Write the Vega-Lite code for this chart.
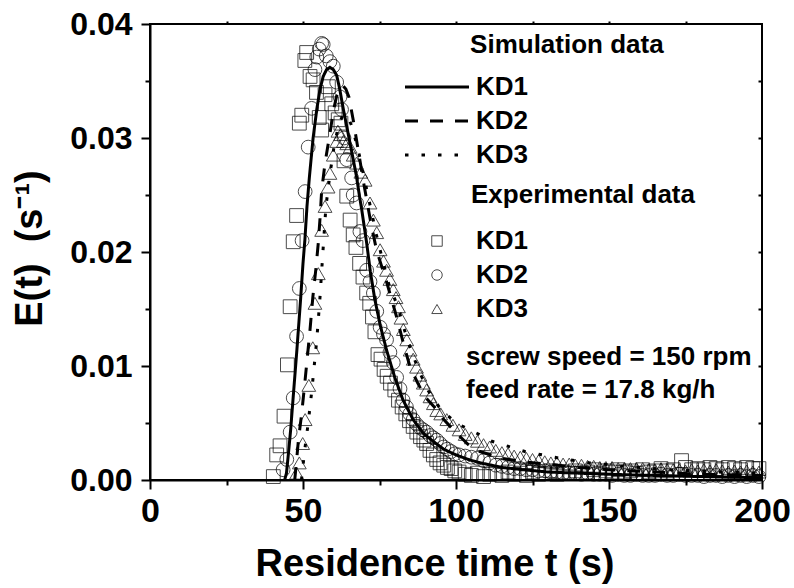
{
"$schema": "https://vega.github.io/schema/vega-lite/v6.json",
"autosize": {"type": "none"},
"padding": {"left": 150, "top": 24, "right": 32, "bottom": 108},
"width": 612,
"height": 456,
"background": "white",
"config": {
  "font": "Liberation Sans",
  "view": {"stroke": "black", "strokeWidth": 2},
  "axis": {"domainColor": "black", "domainWidth": 2, "tickColor": "black", "tickWidth": 2, "labelColor": "black", "titleColor": "black", "labelFont": "Liberation Sans", "labelFontWeight": "bold", "titleFont": "Liberation Sans", "titleFontWeight": "bold", "grid": false, "labelFlush": false, "labelOverlap": false},
  "legend": {"labelFont": "Liberation Sans", "labelFontWeight": "bold", "labelColor": "black", "labelFontSize": 26, "padding": 0}
},
"datasets": {
"exp": [
{"exp":"KD1","t":40.3,"e":0.0003},{"exp":"KD1","t":41.4,"e":0.0022},{"exp":"KD1","t":42.5,"e":0.0030},{"exp":"KD1","t":43.8,"e":0.0056},{"exp":"KD1","t":44.9,"e":0.0101},{"exp":"KD1","t":45.8,"e":0.0152},{"exp":"KD1","t":46.8,"e":0.0209},{"exp":"KD1","t":47.9,"e":0.0232},{"exp":"KD1","t":48.8,"e":0.0313},{"exp":"KD1","t":49.6,"e":0.0320},{"exp":"KD1","t":50.6,"e":0.0368},{"exp":"KD1","t":51.2,"e":0.0375},{"exp":"KD1","t":52.3,"e":0.0354},{"exp":"KD1","t":53.3,"e":0.0351},{"exp":"KD1","t":54.4,"e":0.0340},{"exp":"KD1","t":55.3,"e":0.0318},{"exp":"KD1","t":56.1,"e":0.0307},{"exp":"KD1","t":57.2,"e":0.0338},{"exp":"KD1","t":58.3,"e":0.0345},{"exp":"KD1","t":59.4,"e":0.0330},{"exp":"KD1","t":60.5,"e":0.0322},{"exp":"KD1","t":61.5,"e":0.0316},{"exp":"KD1","t":62.4,"e":0.0313},{"exp":"KD1","t":63.4,"e":0.0280},{"exp":"KD1","t":64.3,"e":0.0249},{"exp":"KD1","t":65.4,"e":0.0228},{"exp":"KD1","t":66.4,"e":0.0215},{"exp":"KD1","t":67.3,"e":0.0204},{"exp":"KD1","t":68.5,"e":0.0190},{"exp":"KD1","t":69.6,"e":0.0178},{"exp":"KD1","t":70.8,"e":0.0164},{"exp":"KD1","t":71.8,"e":0.0155},{"exp":"KD1","t":72.7,"e":0.0143},{"exp":"KD1","t":73.5,"e":0.0130},{"exp":"KD1","t":74.5,"e":0.0110},{"exp":"KD1","t":75.5,"e":0.0106},{"exp":"KD1","t":76.5,"e":0.0097},{"exp":"KD1","t":77.5,"e":0.0091},{"exp":"KD1","t":78.6,"e":0.0085},{"exp":"KD1","t":80.0,"e":0.0079},{"exp":"KD1","t":81.2,"e":0.0070},{"exp":"KD1","t":82.4,"e":0.0064},{"exp":"KD1","t":83.6,"e":0.0058},{"exp":"KD1","t":84.8,"e":0.0052},{"exp":"KD1","t":86.0,"e":0.0047},{"exp":"KD1","t":87.2,"e":0.0042},{"exp":"KD1","t":88.4,"e":0.0038},{"exp":"KD1","t":89.5,"e":0.0035},{"exp":"KD1","t":90.4,"e":0.0032},{"exp":"KD1","t":91.5,"e":0.0026},{"exp":"KD1","t":92.6,"e":0.0022},{"exp":"KD1","t":93.7,"e":0.0018},{"exp":"KD1","t":94.8,"e":0.0015},{"exp":"KD1","t":96.0,"e":0.0013},{"exp":"KD1","t":97.2,"e":0.0011},{"exp":"KD1","t":98.4,"e":0.0010},{"exp":"KD1","t":99.6,"e":0.0008},
{"exp":"KD1","t":101,"e":0.0007},{"exp":"KD1","t":103,"e":0.0005},{"exp":"KD1","t":105,"e":0.0004},{"exp":"KD1","t":107,"e":0.0006},{"exp":"KD1","t":109,"e":0.0003},{"exp":"KD1","t":111,"e":0.0005},{"exp":"KD1","t":113,"e":0.0006},{"exp":"KD1","t":115,"e":0.0004},{"exp":"KD1","t":117,"e":0.0007},{"exp":"KD1","t":119,"e":0.0005},{"exp":"KD1","t":121,"e":0.0006},{"exp":"KD1","t":123,"e":0.0004},{"exp":"KD1","t":125,"e":0.0007},{"exp":"KD1","t":127,"e":0.0005},{"exp":"KD1","t":129,"e":0.0006},{"exp":"KD1","t":131,"e":0.0008},{"exp":"KD1","t":133,"e":0.0005},{"exp":"KD1","t":135,"e":0.0007},{"exp":"KD1","t":137,"e":0.0006},{"exp":"KD1","t":139,"e":0.0008},{"exp":"KD1","t":141,"e":0.0006},{"exp":"KD1","t":143,"e":0.0007},{"exp":"KD1","t":145,"e":0.0009},{"exp":"KD1","t":147,"e":0.0006},{"exp":"KD1","t":149,"e":0.0008},{"exp":"KD1","t":151,"e":0.0007},{"exp":"KD1","t":153,"e":0.0009},{"exp":"KD1","t":155,"e":0.0007},{"exp":"KD1","t":157,"e":0.0008},{"exp":"KD1","t":159,"e":0.0006},{"exp":"KD1","t":161,"e":0.0009},{"exp":"KD1","t":163,"e":0.0007},{"exp":"KD1","t":165,"e":0.0008},{"exp":"KD1","t":167,"e":0.0010},{"exp":"KD1","t":169,"e":0.0008},{"exp":"KD1","t":171,"e":0.0009},{"exp":"KD1","t":173.7,"e":0.0017},{"exp":"KD1","t":175,"e":0.0011},{"exp":"KD1","t":177,"e":0.0009},{"exp":"KD1","t":179,"e":0.0010},{"exp":"KD1","t":181,"e":0.0009},{"exp":"KD1","t":183,"e":0.0011},{"exp":"KD1","t":185,"e":0.0010},{"exp":"KD1","t":187,"e":0.0009},{"exp":"KD1","t":189,"e":0.0011},{"exp":"KD1","t":191,"e":0.0010},{"exp":"KD1","t":193,"e":0.0009},{"exp":"KD1","t":195,"e":0.0011},{"exp":"KD1","t":197,"e":0.0010},{"exp":"KD1","t":199,"e":0.0010},
{"exp":"KD2","t":43.5,"e":0.0009},{"exp":"KD2","t":44.7,"e":0.0018},{"exp":"KD2","t":45.8,"e":0.0042},{"exp":"KD2","t":46.8,"e":0.0072},{"exp":"KD2","t":47.9,"e":0.0126},{"exp":"KD2","t":48.8,"e":0.0168},{"exp":"KD2","t":49.7,"e":0.0210},{"exp":"KD2","t":50.7,"e":0.0253},{"exp":"KD2","t":51.7,"e":0.0292},{"exp":"KD2","t":52.8,"e":0.0326},{"exp":"KD2","t":53.9,"e":0.0360},{"exp":"KD2","t":54.5,"e":0.0371},{"exp":"KD2","t":55.3,"e":0.0378},{"exp":"KD2","t":56.1,"e":0.0383},{"exp":"KD2","t":56.6,"e":0.0382},{"exp":"KD2","t":57.6,"e":0.0372},{"exp":"KD2","t":58.8,"e":0.0367},{"exp":"KD2","t":59.9,"e":0.0363},{"exp":"KD2","t":61.0,"e":0.0349},{"exp":"KD2","t":62.1,"e":0.0336},{"exp":"KD2","t":62.6,"e":0.0325},{"exp":"KD2","t":63.4,"e":0.0300},{"exp":"KD2","t":64.3,"e":0.0281},{"exp":"KD2","t":65.9,"e":0.0265},{"exp":"KD2","t":66.4,"e":0.0250},{"exp":"KD2","t":67.5,"e":0.0243},{"exp":"KD2","t":68.6,"e":0.0218},{"exp":"KD2","t":69.6,"e":0.0210},{"exp":"KD2","t":70.8,"e":0.0184},{"exp":"KD2","t":71.9,"e":0.0174},{"exp":"KD2","t":73.0,"e":0.0164},{"exp":"KD2","t":74.1,"e":0.0148},{"exp":"KD2","t":75.2,"e":0.0134},{"exp":"KD2","t":76.3,"e":0.0128},{"exp":"KD2","t":77.3,"e":0.0123},{"exp":"KD2","t":78.4,"e":0.0112},{"exp":"KD2","t":79.5,"e":0.0103},{"exp":"KD2","t":80.6,"e":0.0090},{"exp":"KD2","t":81.7,"e":0.0080},{"exp":"KD2","t":82.7,"e":0.0070},{"exp":"KD2","t":83.8,"e":0.0064},{"exp":"KD2","t":84.9,"e":0.0058},{"exp":"KD2","t":86.0,"e":0.0053},{"exp":"KD2","t":87.1,"e":0.0049},{"exp":"KD2","t":88.2,"e":0.0046},{"exp":"KD2","t":89.3,"e":0.0044},{"exp":"KD2","t":90.4,"e":0.0042},{"exp":"KD2","t":91.5,"e":0.0039},{"exp":"KD2","t":92.6,"e":0.0037},{"exp":"KD2","t":93.7,"e":0.0035},{"exp":"KD2","t":94.8,"e":0.0032},{"exp":"KD2","t":96.0,"e":0.0029},{"exp":"KD2","t":97.2,"e":0.0027},{"exp":"KD2","t":98.4,"e":0.0025},{"exp":"KD2","t":99.6,"e":0.0023},
{"exp":"KD2","t":101,"e":0.0022},{"exp":"KD2","t":103,"e":0.0021},{"exp":"KD2","t":105,"e":0.0020},{"exp":"KD2","t":107,"e":0.0019},{"exp":"KD2","t":109,"e":0.0017},{"exp":"KD2","t":111,"e":0.0015},{"exp":"KD2","t":113,"e":0.0013},{"exp":"KD2","t":115,"e":0.0012},{"exp":"KD2","t":117,"e":0.0011},{"exp":"KD2","t":119,"e":0.0010},{"exp":"KD2","t":121,"e":0.0010},{"exp":"KD2","t":123,"e":0.0009},{"exp":"KD2","t":125,"e":0.0009},{"exp":"KD2","t":127,"e":0.0008},{"exp":"KD2","t":129,"e":0.0008},{"exp":"KD2","t":131,"e":0.0007},{"exp":"KD2","t":133,"e":0.0007},{"exp":"KD2","t":135,"e":0.0006},{"exp":"KD2","t":137,"e":0.0006},{"exp":"KD2","t":139,"e":0.0006},{"exp":"KD2","t":141,"e":0.0005},{"exp":"KD2","t":143,"e":0.0006},{"exp":"KD2","t":145,"e":0.0005},{"exp":"KD2","t":147,"e":0.0005},{"exp":"KD2","t":149,"e":0.0005},{"exp":"KD2","t":151,"e":0.0004},{"exp":"KD2","t":153,"e":0.0005},{"exp":"KD2","t":155,"e":0.0004},{"exp":"KD2","t":157,"e":0.0004},{"exp":"KD2","t":159,"e":0.0005},{"exp":"KD2","t":161,"e":0.0004},{"exp":"KD2","t":163,"e":0.0004},{"exp":"KD2","t":165,"e":0.0004},{"exp":"KD2","t":167,"e":0.0005},{"exp":"KD2","t":169,"e":0.0004},{"exp":"KD2","t":171,"e":0.0004},{"exp":"KD2","t":173,"e":0.0005},{"exp":"KD2","t":175,"e":0.0004},{"exp":"KD2","t":177,"e":0.0004},{"exp":"KD2","t":179,"e":0.0004},{"exp":"KD2","t":181,"e":0.0003},{"exp":"KD2","t":183,"e":0.0004},{"exp":"KD2","t":185,"e":0.0004},{"exp":"KD2","t":187,"e":0.0003},{"exp":"KD2","t":189,"e":0.0004},{"exp":"KD2","t":191,"e":0.0003},{"exp":"KD2","t":193,"e":0.0004},{"exp":"KD2","t":195,"e":0.0003},{"exp":"KD2","t":197,"e":0.0004},{"exp":"KD2","t":199,"e":0.0003},
{"exp":"KD3","t":47.9,"e":0.0006},{"exp":"KD3","t":48.8,"e":0.0015},{"exp":"KD3","t":49.9,"e":0.0032},{"exp":"KD3","t":50.7,"e":0.0053},{"exp":"KD3","t":51.9,"e":0.0083},{"exp":"KD3","t":53.2,"e":0.0116},{"exp":"KD3","t":53.9,"e":0.0155},{"exp":"KD3","t":55.0,"e":0.0181},{"exp":"KD3","t":56.1,"e":0.0219},{"exp":"KD3","t":57.2,"e":0.0240},{"exp":"KD3","t":58.2,"e":0.0257},{"exp":"KD3","t":58.8,"e":0.0269},{"exp":"KD3","t":59.9,"e":0.0285},{"exp":"KD3","t":61.0,"e":0.0297},{"exp":"KD3","t":61.4,"e":0.0306},{"exp":"KD3","t":62.3,"e":0.0303},{"exp":"KD3","t":63.2,"e":0.0297},{"exp":"KD3","t":64.3,"e":0.0295},{"exp":"KD3","t":65.4,"e":0.0292},{"exp":"KD3","t":66.4,"e":0.0285},{"exp":"KD3","t":67.5,"e":0.0278},{"exp":"KD3","t":68.9,"e":0.0270},{"exp":"KD3","t":70.3,"e":0.0263},{"exp":"KD3","t":71.9,"e":0.0243},{"exp":"KD3","t":73.0,"e":0.0228},{"exp":"KD3","t":74.1,"e":0.0217},{"exp":"KD3","t":75.2,"e":0.0202},{"exp":"KD3","t":76.3,"e":0.0192},{"exp":"KD3","t":77.3,"e":0.0184},{"exp":"KD3","t":78.4,"e":0.0176},{"exp":"KD3","t":79.5,"e":0.0167},{"exp":"KD3","t":80.4,"e":0.0160},{"exp":"KD3","t":81.2,"e":0.0152},{"exp":"KD3","t":82.0,"e":0.0142},{"exp":"KD3","t":82.8,"e":0.0132},{"exp":"KD3","t":83.9,"e":0.0123},{"exp":"KD3","t":85.0,"e":0.0114},{"exp":"KD3","t":86.0,"e":0.0106},{"exp":"KD3","t":87.1,"e":0.0099},{"exp":"KD3","t":88.2,"e":0.0092},{"exp":"KD3","t":89.3,"e":0.0085},{"exp":"KD3","t":90.4,"e":0.0079},{"exp":"KD3","t":91.5,"e":0.0073},{"exp":"KD3","t":92.6,"e":0.0067},{"exp":"KD3","t":93.7,"e":0.0061},{"exp":"KD3","t":95,"e":0.0058},{"exp":"KD3","t":97,"e":0.0053},{"exp":"KD3","t":99,"e":0.0048},
{"exp":"KD3","t":101,"e":0.0044},{"exp":"KD3","t":103,"e":0.0040},{"exp":"KD3","t":105,"e":0.0037},{"exp":"KD3","t":107,"e":0.0034},{"exp":"KD3","t":109,"e":0.0031},{"exp":"KD3","t":111,"e":0.0029},{"exp":"KD3","t":113,"e":0.0026},{"exp":"KD3","t":115,"e":0.0024},{"exp":"KD3","t":117,"e":0.0023},{"exp":"KD3","t":119,"e":0.0021},{"exp":"KD3","t":121,"e":0.0020},{"exp":"KD3","t":123,"e":0.0019},{"exp":"KD3","t":125,"e":0.0018},{"exp":"KD3","t":127,"e":0.0017},{"exp":"KD3","t":129,"e":0.0016},{"exp":"KD3","t":131,"e":0.0015},{"exp":"KD3","t":133,"e":0.0015},{"exp":"KD3","t":135,"e":0.0014},{"exp":"KD3","t":137,"e":0.0014},{"exp":"KD3","t":139,"e":0.0013},{"exp":"KD3","t":141,"e":0.0013},{"exp":"KD3","t":143,"e":0.0012},{"exp":"KD3","t":145,"e":0.0012},{"exp":"KD3","t":147,"e":0.0011},{"exp":"KD3","t":149,"e":0.0011},{"exp":"KD3","t":151,"e":0.0011},{"exp":"KD3","t":153,"e":0.0010},{"exp":"KD3","t":155,"e":0.0010},{"exp":"KD3","t":157,"e":0.0010},{"exp":"KD3","t":159,"e":0.0010},{"exp":"KD3","t":161,"e":0.0010},{"exp":"KD3","t":163,"e":0.0009},{"exp":"KD3","t":165,"e":0.0009},{"exp":"KD3","t":167,"e":0.0010},{"exp":"KD3","t":169,"e":0.0009},{"exp":"KD3","t":171,"e":0.0009},{"exp":"KD3","t":173,"e":0.0009},{"exp":"KD3","t":175,"e":0.0008},{"exp":"KD3","t":177,"e":0.0009},{"exp":"KD3","t":179,"e":0.0008},{"exp":"KD3","t":181,"e":0.0009},{"exp":"KD3","t":183,"e":0.0008},{"exp":"KD3","t":185,"e":0.0009},{"exp":"KD3","t":187,"e":0.0008},{"exp":"KD3","t":189,"e":0.0007},{"exp":"KD3","t":191,"e":0.0008},{"exp":"KD3","t":193,"e":0.0007},{"exp":"KD3","t":195,"e":0.0008},{"exp":"KD3","t":197,"e":0.0007},{"exp":"KD3","t":199,"e":0.0007}
],
"sim": [
{"sim":"KD1","t":44.0,"e":0},{"sim":"KD1","t":44.6,"e":0.0006},{"sim":"KD1","t":45.3,"e":0.0025},{"sim":"KD1","t":46.0,"e":0.0045},{"sim":"KD1","t":46.8,"e":0.0073},{"sim":"KD1","t":48.0,"e":0.0114},{"sim":"KD1","t":49.2,"e":0.0158},{"sim":"KD1","t":50.0,"e":0.0190},{"sim":"KD1","t":50.6,"e":0.0210},{"sim":"KD1","t":51.3,"e":0.0240},{"sim":"KD1","t":52.1,"e":0.0266},{"sim":"KD1","t":53.3,"e":0.0300},{"sim":"KD1","t":54.5,"e":0.0325},{"sim":"KD1","t":55.5,"e":0.0342},{"sim":"KD1","t":56.6,"e":0.0354},{"sim":"KD1","t":57.7,"e":0.0360},{"sim":"KD1","t":58.8,"e":0.0362},{"sim":"KD1","t":59.9,"e":0.0360},{"sim":"KD1","t":61.0,"e":0.0355},{"sim":"KD1","t":62.0,"e":0.0343},{"sim":"KD1","t":63.2,"e":0.0325},{"sim":"KD1","t":64.3,"e":0.0310},{"sim":"KD1","t":65.4,"e":0.0295},{"sim":"KD1","t":66.5,"e":0.0280},{"sim":"KD1","t":67.5,"e":0.0266},{"sim":"KD1","t":68.4,"e":0.0250},{"sim":"KD1","t":69.2,"e":0.0237},{"sim":"KD1","t":70.8,"e":0.0208},{"sim":"KD1","t":72.0,"e":0.0183},{"sim":"KD1","t":73.5,"e":0.0158},{"sim":"KD1","t":75.3,"e":0.0135},{"sim":"KD1","t":77.3,"e":0.0114},{"sim":"KD1","t":80.0,"e":0.0090},{"sim":"KD1","t":82.7,"e":0.0070},{"sim":"KD1","t":86.0,"e":0.0053},{"sim":"KD1","t":89.3,"e":0.0041},{"sim":"KD1","t":92.5,"e":0.0034},{"sim":"KD1","t":96,"e":0.0027},{"sim":"KD1","t":100,"e":0.0022},{"sim":"KD1","t":104,"e":0.0018},{"sim":"KD1","t":108,"e":0.0015},{"sim":"KD1","t":115,"e":0.0011},{"sim":"KD1","t":122,"e":0.0009},{"sim":"KD1","t":130,"e":0.0007},{"sim":"KD1","t":140,"e":0.0006},{"sim":"KD1","t":150,"e":0.0005},{"sim":"KD1","t":165,"e":0.0004},{"sim":"KD1","t":180,"e":0.0003},{"sim":"KD1","t":200,"e":0.0002},
{"sim":"KD2","t":47.3,"e":0},{"sim":"KD2","t":48.0,"e":0.0020},{"sim":"KD2","t":48.5,"e":0.0035},{"sim":"KD2","t":49.6,"e":0.0059},{"sim":"KD2","t":50.7,"e":0.0088},{"sim":"KD2","t":51.5,"e":0.0110},{"sim":"KD2","t":52.3,"e":0.0132},{"sim":"KD2","t":53.2,"e":0.0160},{"sim":"KD2","t":54.2,"e":0.0185},{"sim":"KD2","t":55.0,"e":0.0208},{"sim":"KD2","t":55.6,"e":0.0231},{"sim":"KD2","t":56.1,"e":0.0254},{"sim":"KD2","t":57.2,"e":0.0278},{"sim":"KD2","t":58.8,"e":0.0304},{"sim":"KD2","t":60.0,"e":0.0325},{"sim":"KD2","t":61.0,"e":0.0337},{"sim":"KD2","t":62.0,"e":0.0344},{"sim":"KD2","t":63.0,"e":0.0346},{"sim":"KD2","t":64.0,"e":0.0343},{"sim":"KD2","t":65.0,"e":0.0336},{"sim":"KD2","t":66.4,"e":0.0316},{"sim":"KD2","t":68.0,"e":0.0290},{"sim":"KD2","t":70.0,"e":0.0258},{"sim":"KD2","t":72.0,"e":0.0228},{"sim":"KD2","t":74.0,"e":0.0202},{"sim":"KD2","t":77.4,"e":0.0173},{"sim":"KD2","t":80.6,"e":0.0143},{"sim":"KD2","t":83.0,"e":0.0118},{"sim":"KD2","t":85.0,"e":0.0099},{"sim":"KD2","t":87.5,"e":0.0085},{"sim":"KD2","t":89.9,"e":0.0073},{"sim":"KD2","t":92.6,"e":0.0065},{"sim":"KD2","t":96,"e":0.0053},{"sim":"KD2","t":100.2,"e":0.0041},{"sim":"KD2","t":104,"e":0.0031},{"sim":"KD2","t":107.8,"e":0.0025},{"sim":"KD2","t":115,"e":0.0019},{"sim":"KD2","t":122,"e":0.0016},{"sim":"KD2","t":129.6,"e":0.0014},{"sim":"KD2","t":140,"e":0.0011},{"sim":"KD2","t":150,"e":0.0009},{"sim":"KD2","t":165,"e":0.0007},{"sim":"KD2","t":180,"e":0.0005},{"sim":"KD2","t":200,"e":0.0004},
{"sim":"KD3","t":49.5,"e":0},{"sim":"KD3","t":50.5,"e":0.0025},{"sim":"KD3","t":51.7,"e":0.0050},{"sim":"KD3","t":52.9,"e":0.0079},{"sim":"KD3","t":54.5,"e":0.0123},{"sim":"KD3","t":55.5,"e":0.0158},{"sim":"KD3","t":56.5,"e":0.0200},{"sim":"KD3","t":57.5,"e":0.0240},{"sim":"KD3","t":58.8,"e":0.0268},{"sim":"KD3","t":60.0,"e":0.0290},{"sim":"KD3","t":61.5,"e":0.0310},{"sim":"KD3","t":63.0,"e":0.0320},{"sim":"KD3","t":64.5,"e":0.0320},{"sim":"KD3","t":66.0,"e":0.0310},{"sim":"KD3","t":68.0,"e":0.0290},{"sim":"KD3","t":70.0,"e":0.0265},{"sim":"KD3","t":72.0,"e":0.0240},{"sim":"KD3","t":74.0,"e":0.0215},{"sim":"KD3","t":76.0,"e":0.0193},{"sim":"KD3","t":78.0,"e":0.0172},{"sim":"KD3","t":81.0,"e":0.0152},{"sim":"KD3","t":83.0,"e":0.0133},{"sim":"KD3","t":85.0,"e":0.0116},{"sim":"KD3","t":88.0,"e":0.0095},{"sim":"KD3","t":91.0,"e":0.0078},{"sim":"KD3","t":95.0,"e":0.0062},{"sim":"KD3","t":100,"e":0.0050},{"sim":"KD3","t":106.8,"e":0.0041},{"sim":"KD3","t":111.7,"e":0.0034},{"sim":"KD3","t":122.5,"e":0.0025},{"sim":"KD3","t":134,"e":0.0019},{"sim":"KD3","t":143.8,"e":0.0015},{"sim":"KD3","t":155,"e":0.0012},{"sim":"KD3","t":170,"e":0.0009},{"sim":"KD3","t":185,"e":0.0007},{"sim":"KD3","t":200,"e":0.0006}
]
},
"layer": [
  {
    "data": {"name": "exp"},
    "mark": {"type": "point", "filled": false, "strokeWidth": 1, "size": 190, "color": "black"},
    "encoding": {
      "x": {"field": "t", "type": "quantitative", "scale": {"domain": [0, 200], "nice": false},
        "axis": {"orient": "bottom", "values": [0, 50, 100, 150, 200], "tickSize": 9, "labelFontSize": 34, "labelPadding": 5, "title": "Residence time t (s)", "titleFontSize": 38, "titlePadding": 17, "titleX": 284.5}},
      "y": {"field": "e", "type": "quantitative", "scale": {"domain": [0, 0.04], "nice": false},
        "axis": {"orient": "left", "values": [0, 0.01, 0.02, 0.03, 0.04], "format": ".2f", "tickSize": 9, "labelFontSize": 32, "labelPadding": 9, "title": "E(t)\u00a0\u00a0(s⁻¹)", "titleFontSize": 38, "titlePadding": 20, "titleY": 224}},
      "shape": {"field": "exp", "type": "nominal", "scale": {"range": ["square", "circle", "triangle-up"]},
        "legend": {"orient": "none", "legendX": 274, "legendY": 204, "title": null, "symbolSize": 110, "symbolStrokeWidth": 1, "symbolStrokeColor": "black", "symbolFillColor": "transparent", "labelOffset": 26, "rowPadding": 8}}
    }
  },
  {
    "data": {"name": "sim"},
    "mark": {"type": "line", "color": "black", "strokeWidth": 3},
    "encoding": {
      "x": {"field": "t", "type": "quantitative", "scale": {"domain": [0, 200], "nice": false},
        "axis": {"orient": "bottom", "values": [25, 75, 125, 175], "labels": false, "tickSize": 5, "domain": false, "title": null}},
      "y": {"field": "e", "type": "quantitative", "scale": {"domain": [0, 0.04], "nice": false},
        "axis": {"orient": "left", "values": [0.005, 0.015, 0.025, 0.035], "labels": false, "tickSize": 5, "domain": false, "title": null}},
      "strokeDash": {"field": "sim", "type": "nominal", "scale": {"range": [[1, 0], [13, 12], [3.5, 13]]},
        "legend": {"orient": "none", "legendX": 298, "legendY": 50, "title": null, "symbolType": "M-7,0H1", "symbolSize": 256, "symbolStrokeWidth": 3, "symbolStrokeColor": "black", "labelOffset": 2, "rowPadding": 8}}
    }
  },
  {
    "data": {"values": [{}]},
    "mark": {"type": "text", "align": "left", "baseline": "middle", "font": "Liberation Sans", "fontSize": 26, "fontWeight": "bold", "color": "black"},
    "encoding": {
      "x": {"datum": 104.6, "type": "quantitative", "axis": {"orient": "top", "values": [25, 50, 75, 100, 125, 150, 175], "labels": false, "tickSize": 3, "domain": false, "title": null}},
      "y": {"datum": 0.0382, "type": "quantitative", "axis": {"orient": "right", "values": [0.005, 0.01, 0.015, 0.02, 0.025, 0.03, 0.035], "labels": false, "tickSize": -4, "domain": false, "title": null}},
      "text": {"value": "Simulation data"}}
  },
  {
    "data": {"values": [{}]},
    "mark": {"type": "text", "align": "left", "baseline": "middle", "font": "Liberation Sans", "fontSize": 26, "fontWeight": "bold", "color": "black"},
    "encoding": {"x": {"datum": 104.9, "type": "quantitative", "axis": null}, "y": {"datum": 0.0250, "type": "quantitative", "axis": null}, "text": {"value": "Experimental data"}}
  },
  {
    "data": {"values": [{}]},
    "mark": {"type": "text", "align": "left", "baseline": "middle", "font": "Liberation Sans", "fontSize": 26, "fontWeight": "bold", "color": "black"},
    "encoding": {"x": {"datum": 103.3, "type": "quantitative", "axis": null}, "y": {"datum": 0.01079, "type": "quantitative", "axis": null}, "text": {"value": "screw speed = 150 rpm"}}
  },
  {
    "data": {"values": [{}]},
    "mark": {"type": "text", "align": "left", "baseline": "middle", "font": "Liberation Sans", "fontSize": 26, "fontWeight": "bold", "color": "black"},
    "encoding": {"x": {"datum": 103.3, "type": "quantitative", "axis": null}, "y": {"datum": 0.00789, "type": "quantitative", "axis": null}, "text": {"value": "feed rate = 17.8 kg/h"}}
  }
],
"resolve": {"axis": {"x": "independent", "y": "independent"}}
}
